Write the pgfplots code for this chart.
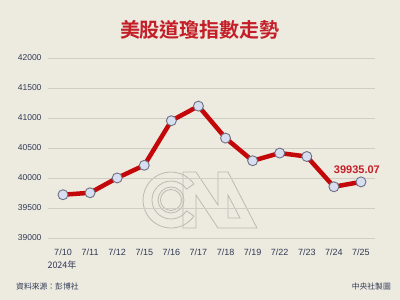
\documentclass[border=0pt]{standalone}
\usepackage{pgfplots}
\pgfplotsset{compat=1.18}
\usepackage{fontspec}
\setmainfont{Liberation Sans}
\newfontfamily\cjk{Noto Sans CJK TC}
\newfontfamily\cjkb{Noto Sans CJK TC Bold}
\definecolor{bgc}{RGB}{237,234,224}
\definecolor{gridc}{RGB}{208,205,196}
\definecolor{tickc}{RGB}{48,58,85}
\definecolor{linec}{RGB}{196,8,10}
\definecolor{titlec}{RGB}{196,30,40}
\definecolor{markfill}{RGB}{214,222,240}
\definecolor{markdraw}{RGB}{110,112,130}
\definecolor{wmc}{RGB}{188,186,178}
\pgfplotstableread{
x y
0 39721.36
1 39753.75
2 40000.90
3 40211.72
4 40954.48
5 41198.08
6 40665.02
7 40287.53
8 40415.44
9 40358.09
10 39853.87
11 39935.07
}\dow
\begin{document}
\begin{tikzpicture}
\fill[bgc] (0pt,0pt) rectangle (400pt,300pt);
% faint CNA watermark
\begin{scope}[x=1pt,y=1pt,draw=wmc,line width=0.8pt]
\draw ({171+28*cos(35)},{100+28*sin(35)}) arc[start angle=35,end angle=325,radius=28]
  -- ({171+19*cos(325)},{100+19*sin(325)}) arc[start angle=325,end angle=35,radius=19] -- cycle;
\draw (171,100) circle[radius=13];
\draw (171,100) circle[radius=10.5];
\draw (183,72) -- (183,128) -- (196,128) -- (218,95) -- (218,128) -- (228,128) -- (257,72) -- (218,72) -- (196,105) -- (196,72) -- cycle;
\draw (228,105) -- (228,82) -- (240,82) -- cycle;
\end{scope}
\begin{axis}[
  at={(48pt,62pt)}, anchor=south west,
  scale only axis, width=327pt, height=180pt,
  xmin=-0.554, xmax=11.517, ymin=39000, ymax=42000,
  axis line style={draw=none},
  ymajorgrids, grid style={draw=gridc, line width=0.7pt},
  ytick={39000,39500,40000,40500,41000,41500,42000},
  scaled y ticks=false,
  xtick={0,...,11},
  xticklabels={7/10,7/11,7/12,7/15,7/16,7/17,7/18,7/19,7/22,7/23,7/24,7/25},
  major tick length=0pt,
  tick style={draw=none},
  /pgf/number format/assume math mode=true,
  /pgf/number format/1000 sep={},
  yticklabel style={font=\fontsize{8.5}{10}\selectfont, text=tickc, xshift=-3pt},
  xticklabel style={font=\fontsize{9}{10}\selectfont, text=tickc, yshift=-7pt},
  clip=false,
]
\addplot[linec, line width=4.5pt, line join=round,
  mark=*, mark size=5pt,
  mark options={fill=markfill, draw=markdraw, line width=0.9pt}] table[x=x,y=y] {\dow};
\node[text=titlec, font=\bfseries\fontsize{11}{12}\selectfont] at (axis cs:10.85,40133) {39935.07};
\end{axis}
\node[text=titlec, font=\cjkb\fontsize{20}{22}\selectfont] at (200pt,270pt) {美股道瓊指數走勢};
\node[text=tickc, font=\cjk\fontsize{9}{10}\selectfont] at (62pt,35pt) {2024年};
\node[anchor=west, text=tickc, font=\cjk\fontsize{7.8}{9}\selectfont, inner sep=0pt] at (16pt,13pt) {資料來源：彭博社};
\node[anchor=east, text=tickc, font=\cjk\fontsize{7.8}{9}\selectfont, inner sep=0pt] at (391pt,13pt) {中央社製圖};
\end{tikzpicture}
\end{document}
